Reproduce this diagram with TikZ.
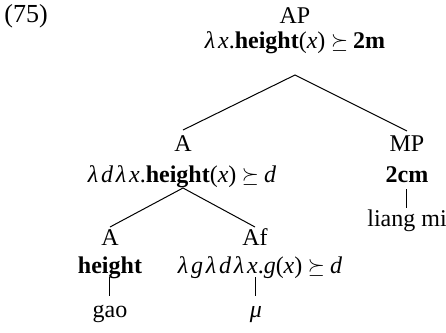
\documentclass[tikz,border=0pt]{standalone}
\usepackage{fontspec}
\setmainfont{Liberation Serif}
\newcommand{\sq}{\kern2.8pt{\fontsize{10.5}{11}\selectfont$\succeq$}\kern2.5pt}
\newcommand{\lk}{\kern1.4pt}
\begin{document}
\begin{tikzpicture}[x=0.5pt,y=-0.5pt,
  lbl/.style={inner sep=0pt,anchor=base,font=\fontsize{12}{14}\selectfont},
  edge/.style={line width=0.5pt}]
\useasboundingbox (0,0) rectangle (446,333);
\node[lbl,anchor=base west] (num) at (4,22) {\fontsize{13}{14}\selectfont(75)};
\node[lbl] (ap) at (295,23.5) {AP};
\node[lbl] (apf) at (295,48.5) {\textit{λ\lk x}.\textbf{height}(\textit{x})\sq\textbf{2m}};
\coordinate (apb) at (295,75);
\node[lbl] (a) at (183,151) {A};
\node[lbl] (af) at (182,182) {\textit{λ\lk d\lk λ\lk x}.\textbf{height}(\textit{x})\sq\textit{d}};
\coordinate (at) at (183,130);
\coordinate (ab) at (183,188);
\node[lbl] (mp) at (407,151) {MP};
\node[lbl] (mpf) at (407,182) {\textbf{2cm}};
\coordinate (mpt) at (407,131);
\coordinate (mpb) at (407,189);
\coordinate (lmt) at (407,208);
\node[lbl] (lm) at (407,226) {liang mi};
\node[lbl] (a2) at (110,245) {A};
\node[lbl] (hf) at (110,273) {\textbf{height}};
\coordinate (a2t) at (110,227);
\node[lbl] (f) at (255,245) {Af};
\node[lbl] (ff) at (260,273) {\textit{λ\lk g\lk λ\lk d\lk λ\lk x}.\textit{g}(\textit{x})\sq\textit{d}};
\coordinate (ft) at (255,227);
\coordinate (hb) at (110,277);
\coordinate (gt) at (110,296);
\coordinate (fb) at (256,277);
\coordinate (mt) at (256,296);
\node[lbl] (gao) at (110,317) {gao};
\node[lbl] (mu) at (256,317) {\textit{μ}};
\draw[edge] (at) -- (apb) -- (mpt);
\draw[edge] (a2t) -- (ab) -- (ft);
\draw[edge] (mpb) -- (lmt);
\draw[edge] (hb) -- (gt);
\draw[edge] (fb) -- (mt);
\end{tikzpicture}
\end{document}
